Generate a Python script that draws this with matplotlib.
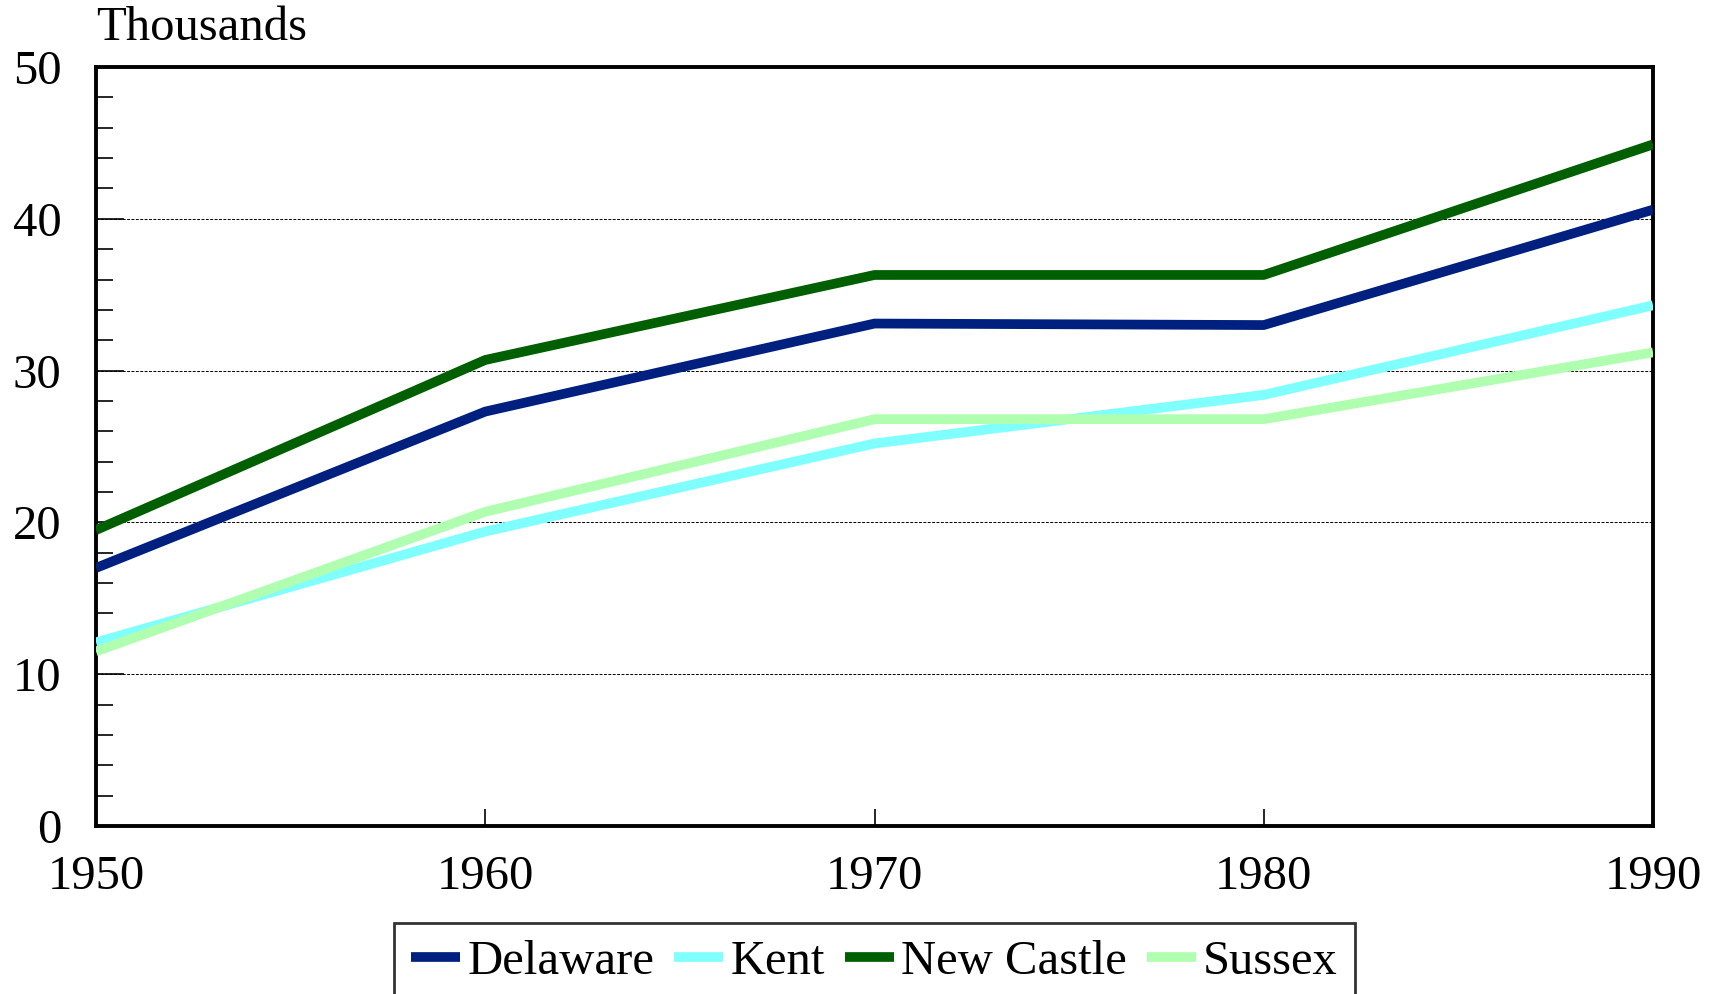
import matplotlib
matplotlib.use("Agg")
import matplotlib.pyplot as plt
from matplotlib.ticker import MultipleLocator

years = [1950, 1960, 1970, 1980, 1990]
delaware = [17.0, 27.3, 33.1, 33.0, 40.6]
kent = [12.1, 19.4, 25.2, 28.4, 34.3]
new_castle = [19.5, 30.7, 36.3, 36.3, 44.9]
sussex = [11.5, 20.7, 26.8, 26.8, 31.2]

series = [("Delaware", delaware, "#00207F"),
          ("Kent", kent, "#80FFFF"),
          ("New Castle", new_castle, "#005F00"),
          ("Sussex", sussex, "#B0FFB0")]

plt.rcParams['font.family'] = ['Liberation Serif', 'DejaVu Serif']

fig = plt.figure(figsize=(17.19, 9.94), dpi=100)
ax = fig.add_axes([96/1719, 1 - 826/994, (1653-96)/1719, (826-67)/994])

for name, vals, col in series:
    ax.plot(years, vals, color=col, lw=7, label=name, solid_capstyle='butt', zorder=3)

FS = 35
ax.set_xlim(1950, 1990)
ax.set_ylim(0, 50)
ax.set_xticks(years)
ax.set_yticks([0, 10, 20, 30, 40, 50])
ax.yaxis.set_minor_locator(MultipleLocator(2))
ax.tick_params(axis='y', which='major', direction='in', length=20, width=1.2, labelsize=FS, pad=25)
ax.tick_params(axis='y', which='minor', direction='in', length=12, width=1.2)
ax.tick_params(axis='x', which='major', direction='in', length=12, width=1.2, labelsize=FS, pad=21)
for s in ax.spines.values():
    s.set_linewidth(2.8)
ax.grid(axis='y', which='major', color='black', linestyle=(0, (3, 1.5)), linewidth=0.7, zorder=1)

ax.text(0, 1.036, "Thousands", transform=ax.transAxes, fontsize=FS, ha='left', va='baseline')

leg = ax.legend(loc='upper center', bbox_to_anchor=(0.5, -0.128), ncol=4, fontsize=FS,
                frameon=True, fancybox=False, edgecolor='black', handlelength=1.0,
                handletextpad=0.15, columnspacing=0.42, borderpad=0.35, borderaxespad=0)
leg.get_frame().set_linewidth(2)

fig.savefig("out.png", dpi=100)
